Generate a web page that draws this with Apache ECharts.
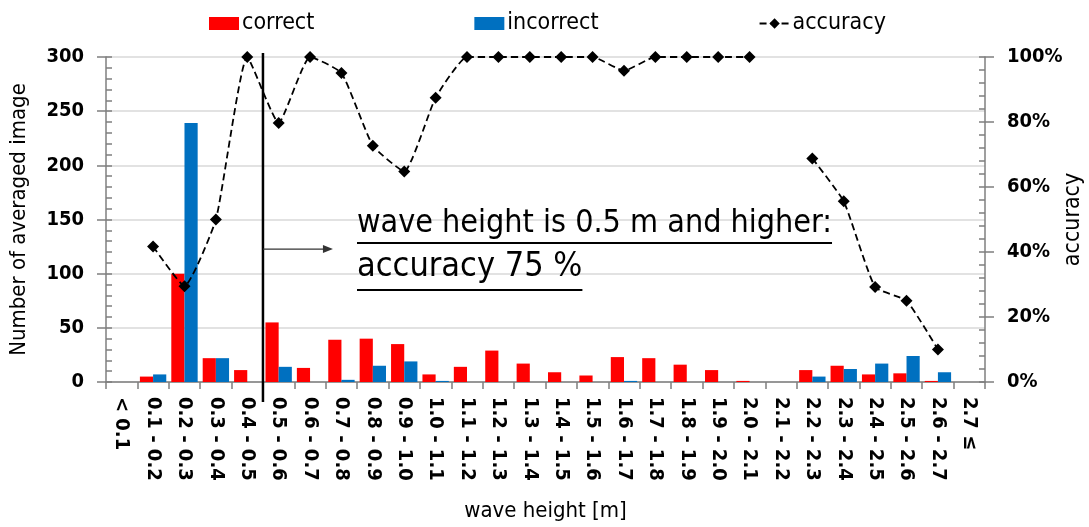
<!DOCTYPE html>
<html>
<head>
<meta charset="utf-8">
<script src="https://cdn.jsdelivr.net/npm/echarts@6/dist/echarts.min.js"></script>
<style>
html,body{margin:0;padding:0;background:#fff;}
#main{width:1089px;height:527px;}
</style>
</head>
<body>
<div id="main"></div>
<script>
const categories = ['< 0.1','0.1 - 0.2','0.2 - 0.3','0.3 - 0.4','0.4 - 0.5','0.5 - 0.6','0.6 - 0.7','0.7 - 0.8','0.8 - 0.9','0.9 - 1.0','1.0 - 1.1','1.1 - 1.2','1.2 - 1.3','1.3 - 1.4','1.4 - 1.5','1.5 - 1.6','1.6 - 1.7','1.7 - 1.8','1.8 - 1.9','1.9 - 2.0','2.0 - 2.1','2.1 - 2.2','2.2 - 2.3','2.3 - 2.4','2.4 - 2.5','2.5 - 2.6','2.6 - 2.7','2.7 \u2264'];
const correct   = [0,5,100,22,11,55,13,39,40,35,7,14,29,17,9,6,23,22,16,11,1,0,11,15,7,8,1,0];
const incorrect = [0,7,239,22,0,14,0,2,15,19,1,0,0,0,0,0,1,0,0,0,0,0,5,12,17,24,9,0];
const accuracy  = [null,41.7,29.5,50,100,79.7,100,95.1,72.7,64.8,87.5,100,100,100,100,100,95.8,100,100,100,100,null,68.8,55.6,29.2,25,10,null];
const leftTicks = [0,50,100,150,200,250,300];
const rightTicks = [0,20,40,60,80,100];
const annotation1 = 'wave height is 0.5 m and higher:';
const annotation2 = 'accuracy 75 %';

const FONT = "'DejaVu Sans Condensed', 'DejaVu Sans', sans-serif";
const axisGray = '#7f7f7f';

const chart = echarts.init(document.getElementById('main'), null, {renderer:'canvas'});
const option = {
  animation:false,
  backgroundColor:'#fff',
  textStyle:{fontFamily:FONT},
  grid:{left:106, right:104, top:57, bottom:145, containLabel:false, outerBoundsMode:'none'},
  legend:{
    left:204, top:7, itemGap:160, itemWidth:30, itemHeight:13,
    textStyle:{fontFamily:FONT, fontSize:23, color:'#000', padding:[0,0,0,-2]},
    data:[{name:'correct', icon:'rect'},{name:'incorrect', icon:'rect'},{name:'accuracy'}]
  },
  xAxis:{
    type:'category', data:categories,
    name:'wave height [m]', nameLocation:'middle', nameGap:118,
    nameTextStyle:{fontFamily:FONT, fontSize:22, color:'#000'},
    axisLine:{lineStyle:{color:axisGray, width:1.5}},
    axisTick:{show:true, interval:0, length:7, lineStyle:{color:axisGray, width:1.5}},
    axisLabel:{interval:0, rotate:-90, margin:15, fontFamily:FONT, fontWeight:'bold', fontSize:20, color:'#000'},
    splitLine:{show:false}
  },
  yAxis:[
    {
      type:'value', position:'left', min:leftTicks[0], max:leftTicks[leftTicks.length-1], interval:leftTicks[1]-leftTicks[0],
      name:'Number of averaged image', nameLocation:'middle', nameGap:76, nameRotate:90,
      nameTextStyle:{fontFamily:FONT, fontSize:22, color:'#000'},
      axisLine:{show:true, lineStyle:{color:axisGray, width:1.5}},
      axisTick:{show:true, inside:true, length:6, lineStyle:{color:axisGray, width:1.5}},
      minorTick:{show:true, splitNumber:5, length:6, lineStyle:{color:axisGray, width:1.5}},
      axisLabel:{margin:22, fontFamily:FONT, fontWeight:'bold', fontSize:20, color:'#000'},
      splitLine:{show:true, lineStyle:{color:'#d9d9d9', width:1.5}}
    },
    {
      type:'value', position:'right', min:rightTicks[0], max:rightTicks[rightTicks.length-1], interval:rightTicks[1]-rightTicks[0],
      name:'accuracy', nameLocation:'middle', nameGap:77, nameRotate:90, nameMoveOverlap:false,
      nameTextStyle:{fontFamily:FONT, fontSize:23, color:'#000'},
      axisLine:{show:true, lineStyle:{color:axisGray, width:1.5}},
      axisTick:{show:true, inside:true, length:6, lineStyle:{color:axisGray, width:1.5}},
      minorTick:{show:true, splitNumber:5, length:6, lineStyle:{color:axisGray, width:1.5}},
      axisLabel:{margin:22, formatter:'{value}%', fontFamily:FONT, fontWeight:'bold', fontSize:20, color:'#000'},
      splitLine:{show:false}
    },
    {
      type:'value', position:'left', min:leftTicks[0], max:leftTicks[leftTicks.length-1], interval:leftTicks[1]-leftTicks[0],
      axisLine:{show:false}, axisLabel:{show:false}, splitLine:{show:false},
      axisTick:{show:true, length:9, lineStyle:{color:axisGray, width:1.5}}
    },
    {
      type:'value', position:'right', min:rightTicks[0], max:rightTicks[rightTicks.length-1], interval:rightTicks[1]-rightTicks[0],
      axisLine:{show:false}, axisLabel:{show:false}, splitLine:{show:false},
      axisTick:{show:true, length:9, lineStyle:{color:axisGray, width:1.5}}
    }
  ],
  series:[
    {name:'correct', type:'bar', yAxisIndex:0, data:correct, barGap:'0%', barCategoryGap:'16%',
     itemStyle:{color:'#ff0000'}},
    {name:'incorrect', type:'bar', yAxisIndex:0, data:incorrect, barGap:'0%', barCategoryGap:'16%',
     itemStyle:{color:'#0070c0'}},
    {name:'accuracy', type:'line', yAxisIndex:1, data:accuracy, connectNulls:false, smooth:0.15,
     symbol:'diamond', symbolSize:12, z:5,
     itemStyle:{color:'#000'},
     lineStyle:{color:'#000', width:1.8, type:[7,4]}}
  ]
};
chart.setOption(option);

function addGraphics(){
  const x4 = chart.convertToPixel({xAxisIndex:0}, 4);
  const x5 = chart.convertToPixel({xAxisIndex:0}, 5);
  const xb = (x4 + x5) / 2;
  const yTop = chart.convertToPixel({yAxisIndex:0}, leftTicks[leftTicks.length-1]);
  const yBot = chart.convertToPixel({yAxisIndex:0}, 0);
  const yArrow = yBot - (yBot - yTop) * 0.409;
  const fs1 = 32, fs2 = 34;
  const f1 = fs1 + "px 'DejaVu Sans Condensed', 'DejaVu Sans', sans-serif";
  const f2 = fs2 + "px 'DejaVu Sans Condensed', 'DejaVu Sans', sans-serif";
  const ctx = document.createElement('canvas').getContext('2d');
  ctx.font = f1; const w1 = ctx.measureText(annotation1).width;
  ctx.font = f2; const w2 = ctx.measureText(annotation2).width;
  const tx = 357;
  const base1 = 240, base2 = 284;
  chart.setOption({graphic:[
    {type:'line', shape:{x1:xb, y1:yTop-4, x2:xb, y2:yBot+20}, style:{stroke:'#000', lineWidth:2.5}, z:10},
    {type:'line', shape:{x1:xb, y1:yArrow, x2:xb+64, y2:yArrow}, style:{stroke:'#333', lineWidth:1.2}, z:10},
    {type:'polygon', shape:{points:[[xb+70,yArrow],[xb+60,yArrow-4],[xb+60,yArrow+4]]}, style:{fill:'#333'}, z:10},
    {type:'text', x:tx, y:base1, style:{text:annotation1, font:f1, fill:'#000', verticalAlign:'bottom'}, z:10},
    {type:'text', x:tx, y:base2, style:{text:annotation2, font:f2, fill:'#000', verticalAlign:'bottom'}, z:10},
    {type:'line', shape:{x1:tx, y1:base1+3, x2:tx+w1, y2:base1+3}, style:{stroke:'#000', lineWidth:2}, z:10},
    {type:'line', shape:{x1:tx, y1:base2+6, x2:tx+w2, y2:base2+6}, style:{stroke:'#000', lineWidth:2}, z:10}
  ]});
}
addGraphics();
</script>
</body>
</html>
